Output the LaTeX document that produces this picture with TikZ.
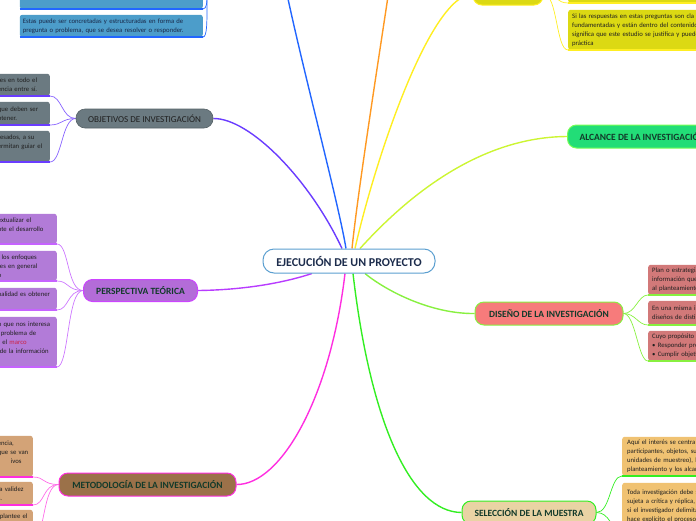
\documentclass[tikz,border=0pt]{standalone}
\usepackage{fontspec}
\setmainfont{Carlito}
\usetikzlibrary{backgrounds}
\definecolor{CtrBorder}{HTML}{5B9FD0}
\definecolor{CtrText}{HTML}{1C2C4C}
\definecolor{TopicText}{HTML}{123A2A}
\definecolor{LeafText}{HTML}{202020}
\definecolor{BlueLine}{HTML}{2266FF}
\definecolor{OrangeLine}{HTML}{FF9922}
\definecolor{YellowLine}{HTML}{FFEE22}
\definecolor{AlcLine}{HTML}{CCF533}
\definecolor{VioletLine}{HTML}{6A3CFF}
\definecolor{PurpLine}{HTML}{B83CFF}
\definecolor{MagLine}{HTML}{FF2EE0}
\definecolor{GreenLine}{HTML}{33EE22}
\definecolor{LGreenLine}{HTML}{88F040}
\definecolor{ObjFill}{HTML}{6B7A81}
\definecolor{PersFill}{HTML}{B36CD8}
\definecolor{PersBorder}{HTML}{CC44FF}
\definecolor{PersLeaf}{HTML}{B27BD8}
\definecolor{MetFill}{HTML}{9B7149}
\definecolor{MetLeaf}{HTML}{D3A377}
\definecolor{DisFill}{HTML}{F77B7B}
\definecolor{DisLeaf}{HTML}{D27979}
\definecolor{SelFill}{HTML}{E9D3A4}
\definecolor{SelLeaf}{HTML}{F0C272}
\definecolor{AlcFill}{HTML}{22DD77}
\definecolor{AlcBorder}{HTML}{77FF55}
\definecolor{YelFill}{HTML}{DCD913}
\definecolor{BlueLeaf}{HTML}{4C9DCA}
\definecolor{BlueText}{HTML}{1A2A4A}
\definecolor{MarcoRed}{HTML}{CC2244}

\begin{document}
\begin{tikzpicture}[x=1pt, y=-1pt,
  topic/.style={rectangle, rounded corners=9pt, line width=1pt, inner sep=0pt,
    text=TopicText, font=\fontsize{9.5}{11}\selectfont\bfseries},
  leaf/.style={rectangle, rounded corners=2.5pt, inner xsep=2pt, inner ysep=2.5pt,
    align=left, text=LeafText, font=\fontsize{6.7}{9}\selectfont},
  branch/.style={line width=1.4pt},
  twig/.style={line width=0.7pt},
  uline/.style={line width=1.4pt}]
\useasboundingbox (0,0) rectangle (696,520);
\clip (0,0) rectangle (696,520);

% centre and main topics
\node[topic, fill=white, draw=CtrBorder, text=CtrText, rounded corners=11pt,
  font=\fontsize{12}{14}\selectfont\bfseries, minimum width=172pt, minimum height=24pt]
  (ctr) at (349,261) {EJECUCIÓN DE UN PROYECTO};
\node[topic, fill=ObjFill, draw=ObjFill!80!black, line width=0.6pt, text=LeafText,
  font=\fontsize{9.1}{11}\selectfont, minimum width=137pt, minimum height=19pt]
  (obj) at (144.5,118.5) {OBJETIVOS DE INVESTIGACIÓN};
\node[topic, fill=PersFill, draw=PersBorder, minimum width=114pt, minimum height=22pt]
  (pers) at (140.5,290.5) {PERSPECTIVA TEÓRICA};
\node[topic, fill=MetFill, draw=MagLine, minimum width=177pt, minimum height=23pt]
  (met) at (147.5,484.5) {METODOLOGÍA DE LA INVESTIGACIÓN};
\node[topic, fill=DisFill, draw=LGreenLine, minimum width=148pt, minimum height=23pt]
  (dis) at (549,313.5) {DISEÑO DE LA INVESTIGACIÓN};
\node[topic, fill=SelFill, draw=GreenLine, minimum width=134pt, minimum height=23pt]
  (sel) at (529,512.5) {SELECCIÓN DE LA MUESTRA};
\node[topic, fill=AlcFill, draw=AlcBorder, anchor=west, inner xsep=12pt, minimum height=23pt]
  (alc) at (567,136.5) {ALCANCE DE LA INVESTIGACIÓN};
\node[topic, fill=YelFill, draw=YellowLine, minimum width=70pt, minimum height=22pt]
  (ytop) at (508,-6) {};
\coordinate (bluetop) at (283,-25);
\coordinate (bluewest) at (211,-22);
\coordinate (orangetop) at (392,-30);

% leaves
\node[leaf, fill=BlueLeaf, text=BlueText, anchor=south east, inner xsep=3pt, text width=177pt, minimum height=30pt]
  (b1) at (203,9) {\mbox{}\\pulirla y acotarla};
\node[leaf, fill=BlueLeaf, text=BlueText, anchor=south east, inner xsep=3pt, text width=177pt, minimum height=22pt]
  (b2) at (203,37) {Estas puede ser concretadas y estructuradas en forma de\\pregunta o problema, que se desea resolver o responder.};

\node[leaf, fill=ObjFill, anchor=south east, text width=50pt, minimum height=22pt]
  (g1) at (50,96) {tes en todo el\\encia entre sí.};
\node[leaf, fill=ObjFill, anchor=south east, text width=50pt, minimum height=23pt]
  (g2) at (50,125) {que deben ser\\btener.};
\node[leaf, fill=ObjFill, anchor=south east, text width=50pt, minimum height=31pt]
  (g3) at (50,162) {resados, a su\\ermitan guiar el\\\mbox{}};

\node[leaf, fill=PersLeaf, anchor=south east, text width=57pt, minimum height=30pt]
  (p1) at (57,244) {extualizar el\\nte el desarrollo\\\mbox{}};
\node[leaf, fill=PersLeaf, anchor=south east, text width=57pt, minimum height=30pt]
  (p2) at (57,281) {, los enfoques\\tes en general\\o};
\node[leaf, fill=PersLeaf, anchor=south east, text width=57pt, minimum height=22pt]
  (p3) at (57,310) {nalidad es obtener\\\mbox{}};
\node[leaf, fill=PersLeaf, anchor=south east, text width=57pt, minimum height=50pt]
  (p4) at (57,367) {n que nos interesa\\\hspace*{3pt}problema de\\r el \textcolor{MarcoRed}{marco}\\\hspace*{2pt}de la información\\\mbox{}};

\node[leaf, fill=MetLeaf, anchor=south east, text width=33pt, minimum height=41pt]
  (m1) at (33,477) {encia,\\que se van\\\hspace*{13pt}ivos\\\mbox{}};
\node[leaf, fill=MetLeaf, anchor=south east, text width=33pt, minimum height=23pt]
  (m2) at (33,505) {la validez\\s.};
\node[leaf, fill=MetLeaf, anchor=south east, text width=33pt, minimum height=30pt]
  (m3) at (33,540) {\hspace*{2pt}plantee el\\\mbox{}\\\mbox{}};

\node[leaf, fill=DisLeaf, anchor=south west, inner xsep=4pt, text width=90pt, minimum height=30pt]
  (d1) at (648,295) {Plan o estrategia\\información que\\al planteamiento};
\node[leaf, fill=DisLeaf, anchor=south west, inner xsep=4pt, text width=90pt, minimum height=24pt]
  (d2) at (648,325) {En una misma i\\diseños de disti};
\node[leaf, fill=DisLeaf, anchor=south west, inner xsep=4pt, text width=90pt, minimum height=30pt]
  (d3) at (648,361) {Cuyo propósito e\\• Responder pre\\• Cumplir objeti};

\node[leaf, fill=SelLeaf, anchor=south west, inner xsep=5pt, text width=100pt, minimum height=39pt]
  (s1) at (622,476) {Aquí el interés se centra e\\participantes, objetos, su\\unidades de muestreo), l\\planteamiento y los alcan};
\node[leaf, fill=SelLeaf, anchor=south west, inner xsep=5pt, text width=100pt, minimum height=47pt]
  (s2) at (622,530) {Toda investigación debe s\\sujeta a crítica y réplica, y\\si el investigador delimita\\hace explícito el proceso};

\node[leaf, fill=YelFill, anchor=south west, inner xsep=4pt, text width=150pt, minimum height=30pt]
  (y1) at (568,3) {};
\node[leaf, fill=YelFill, anchor=south west, inner xsep=4pt, text width=150pt, minimum height=40pt]
  (y2) at (568,50) {Si las respuestas en estas preguntas son cla\\fundamentadas y están dentro del contenido\\significa que este estudio se justifica y puede\\práctica};

% underlines
\foreach \n in {b1,b2} \draw[uline, BlueLine] (\n.south west) -- (\n.south east);
\foreach \n in {g1,g2,g3} \draw[uline, VioletLine] (\n.south west) -- (\n.south east);
\foreach \n in {p1,p2,p3,p4} \draw[uline, PurpLine!80] (\n.south west) -- (\n.south east);
\foreach \n in {m1,m2,m3} \draw[uline, MagLine] (\n.south west) -- (\n.south east);
\foreach \n in {d1,d2,d3} \draw[uline, LGreenLine] (\n.south west) -- (\n.south east);
\foreach \n in {s1,s2} \draw[uline, GreenLine] (\n.south west) -- (\n.south east);
\foreach \n in {y1,y2} \draw[uline, YellowLine] (\n.south west) -- (\n.south east);

% connectors
\begin{scope}[on background layer]
\draw[branch, BlueLine] ([xshift=-3pt]ctr.north) .. controls (338,200) and (300,60) .. (bluetop);
\draw[branch, OrangeLine] ([xshift=3pt]ctr.north) .. controls (358,190) and (380,50) .. (orangetop);
\draw[branch, YellowLine] ([xshift=6pt]ctr.north) .. controls (375,160) and (430,-5) .. (ytop.west);
\draw[branch, AlcLine] ([xshift=11pt]ctr.north) .. controls (395,210) and (470,137) .. (alc.west);
\draw[branch, VioletLine] ([xshift=-7pt]ctr.north) .. controls (310,180) and (250,118) .. (obj.east);
\draw[branch, PurpLine] ([xshift=-37pt]ctr.south) .. controls (280,284) and (240,290) .. (pers.east);
\draw[branch, MagLine] ([xshift=-4pt]ctr.south) .. controls (330,400) and (280,485) .. (met.east);
\draw[branch, GreenLine] ([xshift=4pt]ctr.south) .. controls (370,420) and (410,512) .. (sel.west);
\draw[branch, LGreenLine] ([xshift=16pt]ctr.south) .. controls (385,290) and (430,314) .. (dis.west);

\foreach \n in {b1,b2} \draw[twig, BlueLine] (bluewest) .. controls +(-8,0) and +(8,0) .. (\n.south east);
\foreach \n in {g1,g2,g3} \draw[twig, VioletLine!80] (obj.west) .. controls +(-14,0) and +(12,0) .. (\n.south east);
\foreach \n in {p1,p2,p3,p4} \draw[twig, PurpLine!70] (pers.west) .. controls +(-16,0) and +(12,0) .. (\n.south east);
\foreach \n in {m1,m2,m3} \draw[twig, MagLine!70] (met.west) .. controls +(-16,0) and +(12,0) .. (\n.south east);
\foreach \n in {d1,d2,d3} \draw[twig, LGreenLine] (dis.east) .. controls +(12,0) and +(-10,0) .. (\n.south west);
\foreach \n in {s1,s2} \draw[twig, GreenLine] (sel.east) .. controls +(14,0) and +(-12,0) .. (\n.south west);
\foreach \n in {y1,y2} \draw[twig, YellowLine] (ytop.east) .. controls +(14,0) and +(-12,0) .. (\n.south west);
\end{scope}
\end{tikzpicture}
\end{document}
